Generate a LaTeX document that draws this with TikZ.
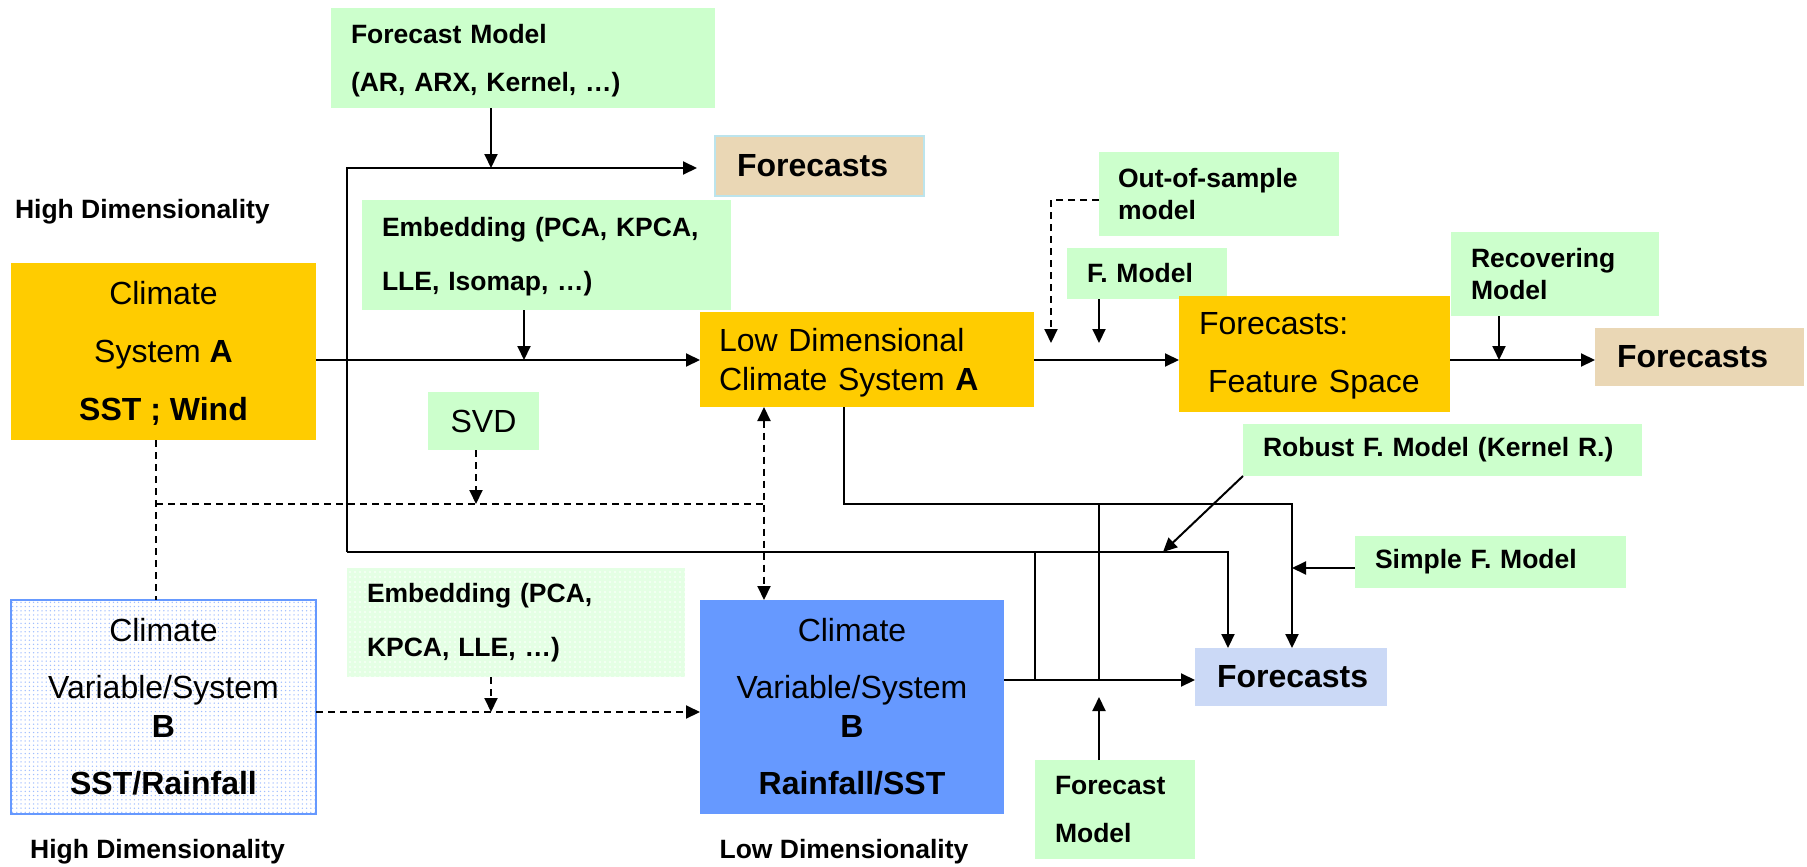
\documentclass[tikz,border=0pt]{standalone}
\usepackage{fontspec}
\setmainfont{Liberation Sans}
\usetikzlibrary{arrows.meta,patterns.meta}

\definecolor{boxgreen}{RGB}{204,255,204}
\definecolor{palegreen}{RGB}{228,255,228}
\definecolor{boxorange}{RGB}{255,204,0}
\definecolor{boxblue}{RGB}{102,153,255}
\definecolor{dotblue}{RGB}{160,190,255}
\definecolor{fcsttan}{RGB}{234,215,181}
\definecolor{fcstlav}{RGB}{203,217,246}
\definecolor{fcstedge}{RGB}{188,228,236}

% invisible strut that pushes the first line of a box down
\newcommand{\textdrop}[1]{\rule{0pt}{#1}}

\begin{document}
\begin{tikzpicture}[x=1pt, y=-1pt,
  every node/.style={inner sep=0pt, outer sep=0pt},
  gbox/.style={fill=boxgreen, align=left, inner xsep=20pt, font=\fontsize{26.5}{#1}\selectfont\bfseries},
  gbox/.default=32,
  obox/.style={fill=boxorange, font=\fontsize{32}{#1}\selectfont},
  obox/.default=58,
  fcst/.style={align=left, inner xsep=22pt, font=\fontsize{32}{38}\selectfont\bfseries},
  dimlabel/.style={font=\fontsize{26.5}{32}\selectfont\bfseries},
  line/.style={line width=2pt},
  arr/.style={line width=2pt, -{Triangle[length=14pt,width=13pt]}},
  dline/.style={line width=2pt, dash pattern=on 7pt off 5pt},
  darr/.style={dline, -{Triangle[length=14pt,width=13pt]}}]

% ad hoc bounding box
\useasboundingbox (0,0) rectangle (1807,867);

% junctions of the connectors
\coordinate (cornerTL) at (347,168);
\coordinate (cornerBL) at (347,552);
\coordinate (fmin) at (491,168);
\coordinate (embin) at (524,360);
\coordinate (svdin) at (476,504);
\coordinate (dashL) at (156,504);
\coordinate (dashR) at (764,504);
\coordinate (embBin) at (491,712);
\coordinate (ldout) at (844,504);
\coordinate (rT) at (1292,504);
\coordinate (rM) at (1228,552);
\coordinate (v1) at (1035,552);
\coordinate (v1b) at (1035,680);
\coordinate (v2) at (1099,504);
\coordinate (v2b) at (1099,680);
\coordinate (robin) at (1163,552);
\coordinate (simin) at (1292,568);
\coordinate (fmthreein) at (1099,697);
\coordinate (outcorner) at (1051,200);
\coordinate (outin) at (1051,343);
\coordinate (fmtwoin) at (1099,343);
\coordinate (recin) at (1499,360);

% upper row
\node[gbox=48, text width=344pt, minimum height=100pt] (fmodel) at (523,58) {\textdrop{25pt}Forecast Model\\(AR, ARX, Kernel, …)};
\node[fcst, fill=fcsttan, draw=fcstedge, line width=1.5pt, text width=165pt, minimum height=60pt] (fcsttop) at (819.5,166) {Forecasts};
\node[dimlabel, anchor=west] (highA) at (15,212) {High Dimensionality};
\node[gbox=54, text width=329pt, minimum height=110pt] (embtop) at (546.5,255) {\textdrop{22pt}Embedding (PCA, KPCA,\\LLE, Isomap, …)};
\node[obox, align=center, minimum width=305pt, minimum height=177pt] (climA) at (163.5,351.5) {\textdrop{27.5pt}Climate\\System \textbf{A}\\\textbf{SST ; Wind}};
\node[obox=39, align=left, inner xsep=19pt, text width=296pt, minimum height=95pt] (lowdim) at (867,359.5) {\textdrop{30pt}Low Dimensional\\Climate System \textbf{A}};
\node[fill=boxgreen, font=\fontsize{32}{38}\selectfont, minimum width=111pt, minimum height=58pt] (svd) at (483.5,421) {SVD};
\node[gbox, inner xsep=19pt, text width=202pt, minimum height=84pt] (outs) at (1219,194) {Out-of-sample\\model};
\node[gbox, text width=120pt, minimum height=51pt] (fmtwo) at (1147,273.5) {F. Model};
\node[obox, align=left, text width=231pt, inner xsep=20pt, minimum height=116pt] (ffs) at (1314.5,354) {\textdrop{26pt}Forecasts:\\\hspace*{9pt}Feature Space};
\node[gbox, text width=168pt, minimum height=84pt] (recov) at (1555,274) {Recovering\\Model};
\node[fcst, fill=fcsttan, text width=165pt, minimum height=58pt] (fcstright) at (1699.5,357) {Forecasts};
\node[gbox, text width=359pt, minimum height=52pt] (robust) at (1442.5,450) {Robust F. Model (Kernel R.)};
\node[gbox, text width=231pt, minimum height=52pt] (simple) at (1490.5,562) {Simple F. Model};

% lower row
\node[draw=boxblue, line width=1.5pt, preaction={fill=white}, pattern={Dots[distance=4.2pt,radius=0.75pt]}, pattern color=dotblue,
      font=\fontsize{32}{57}\selectfont, align=center, minimum width=305pt, minimum height=214pt] (climBhigh) at (163.5,707)
      {Climate\\Variable/System\\[-18pt]\textbf{B}\\\textbf{SST/Rainfall}};
\node[preaction={fill=palegreen}, pattern={Dots[distance=5pt,radius=0.8pt]}, pattern color=white, align=left, inner xsep=20pt,
      font=\fontsize{26.5}{54}\selectfont\bfseries, text width=298pt, minimum height=109pt] (embbot) at (516,622.5) {Embedding (PCA,\\KPCA, LLE, …)};
\node[fill=boxblue, font=\fontsize{32}{57}\selectfont, align=center, minimum width=304pt, minimum height=214pt] (climBlow) at (852,707)
      {Climate\\Variable/System\\[-18pt]\textbf{B}\\\textbf{Rainfall/SST}};
\node[fcst, fill=fcstlav, text width=148pt, minimum height=58pt] (fcstbot) at (1291,677) {Forecasts};
\node[gbox=48, text width=120pt, minimum height=99pt] (fmthree) at (1115,809.5) {Forecast\\Model};
\node[dimlabel] (highB) at (157.5,852) {High Dimensionality};
\node[dimlabel] (lowB) at (844,852) {Low Dimensionality};

% solid connectors
\draw[arr, shorten >=18pt] (cornerBL) -- (cornerTL) -- (cornerTL -| fcsttop.west);
\draw[arr] (cornerBL) -- (rM) -- (rM |- fcstbot.north);
\draw[arr] (fmodel.south -| fmin) -- (fmin);
\draw[arr] (climA.east |- embin) -- (embin -| lowdim.west);
\draw[arr] (embtop.south -| embin) -- (embin);
\draw[arr] (lowdim.east |- embin) -- (ffs.west |- embin);
\draw[arr] (ffs.east |- recin) -- (fcstright.west |- recin);
\draw[arr] (recov.south -| recin) -- (recin);
\draw[arr] (fmtwo.south -| fmtwoin) -- (fmtwoin);
\draw[arr] (lowdim.south -| ldout) -- (ldout) -- (rT) -- (rT |- fcstbot.north);
\draw[line] (v2) -- (v2b);
\draw[line] (v1) -- (v1b);
\draw[arr] (climBlow.east |- v1b) -- (fcstbot.west |- v1b);
\draw[arr] (robust.south west) -- (robin);
\draw[arr] (simple.west |- simin) -- (simin);
\draw[arr] (fmthree.north -| fmthreein) -- (fmthreein);

% dashed connectors
\draw[darr] (outs.west |- outcorner) -- (outcorner) -- (outin);
\draw[dline] (climA.south -| dashL) -- (climBhigh.north -| dashL);
\draw[dline] (dashL) -- (dashR);
\draw[darr] (svd.south -| svdin) -- (svdin);
\draw[darr, {Triangle[length=14pt,width=13pt]}-{Triangle[length=14pt,width=13pt]}] (lowdim.south -| dashR) -- (climBlow.north -| dashR);
\draw[darr] (climBhigh.east |- embBin) -- (climBlow.west |- embBin);
\draw[darr] (embbot.south -| embBin) -- (embBin);

\end{tikzpicture}
\end{document}
